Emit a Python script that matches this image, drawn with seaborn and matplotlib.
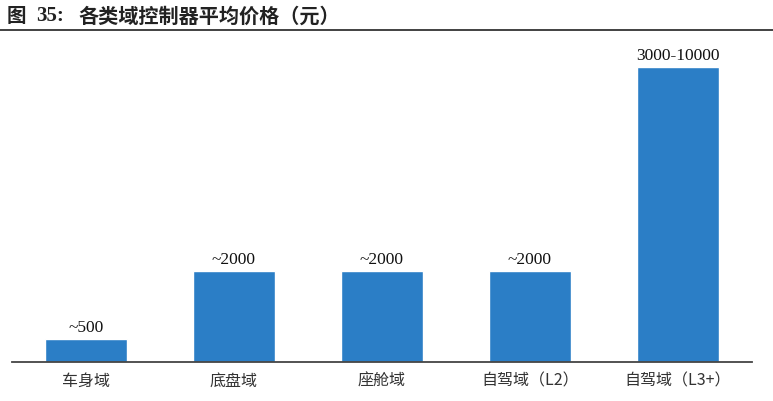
import matplotlib
matplotlib.use("Agg")
import matplotlib.pyplot as plt
import seaborn as sns
import pandas as pd

categories = ["车身域", "底盘域", "座舱域", "自驾域（L2）", "自驾域（L3+）"]
values = [500, 2000, 2000, 2000, 6500]
labels = ["~500", "~2000", "~2000", "~2000", "3000-10000"]

sns.set_theme(style="white")
plt.rcParams['font.family'] = ['Noto Sans CJK SC', 'DejaVu Sans']

df = pd.DataFrame({"cat": categories, "val": values})

fig = plt.figure(figsize=(7.73, 4.02), dpi=100)
ax = fig.add_axes([12/773, 1 - 363/402, 740/773, 323/402])
sns.barplot(data=df, x="cat", y="val", color="#2B7EC6", width=0.555,
            saturation=1, ax=ax)
ax.set_xlim(-0.5, 4.5)
ax.set_ylim(0, 7120)
for s in ["top", "right", "left"]:
    ax.spines[s].set_visible(False)
ax.spines["bottom"].set_color("#444444")
ax.spines["bottom"].set_linewidth(1.3)
ax.set_yticks([])
ax.set_xlabel("")
ax.set_ylabel("")
ax.tick_params(axis="x", length=0, pad=7, labelsize=11.5, colors="#333333")

for i, (v, lab) in enumerate(zip(values, labels)):
    ax.text(i, v + 90, lab, ha="center", va="bottom", fontsize=12.5,
            family=["Liberation Serif"], color="#111111")

ty = 1 - 16/402
fig.text(7/773, ty, "图", ha="left", va="center",
         fontsize=14, fontweight="bold", color="#222222")
fig.text(36/773, ty, "35:", ha="left", va="center", family=["Liberation Serif"],
         fontsize=15, fontweight="bold", color="#222222")
fig.text(78/773, ty, "各类域控制器平均价格（元）", ha="left", va="center",
         fontsize=14.5, fontweight="bold", color="#222222")
fig.add_artist(plt.Line2D([0.0, 1.0], [1 - 31/402, 1 - 31/402], color="#333333",
                          linewidth=1.3, transform=fig.transFigure))

fig.savefig("out.png", dpi=100)
